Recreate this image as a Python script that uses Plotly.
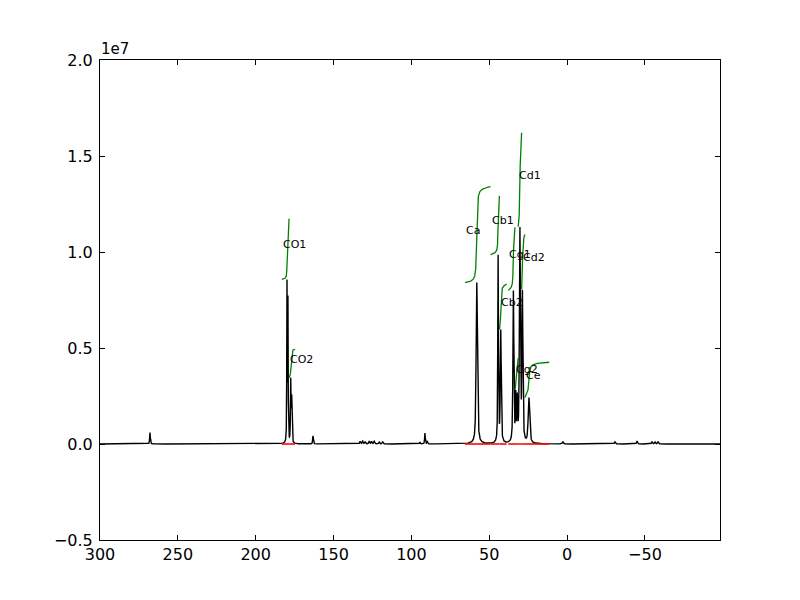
import numpy as np
import plotly.graph_objects as go

# ---- peaks: position (ppm), height, FWHM (ppm) ----
peak_ppm = [267.9, 179.9, 179.3, 177.5, 176.9, 163.2,
            133.0, 131.3, 129.8, 127.1, 125.6, 123.9, 120.7, 118.5,
            94.5, 91.3, 89.8,
            58.0, 44.3, 42.6, 34.5, 33.0, 32.0, 30.3, 28.7, 24.5,
            2.7, -30.7, -44.9, -54.5, -56.5, -58.4]
peak_height = [6.0e5, 8.2e6, 7.3e6, 3.2e6, 2.3e6, 4.2e5,
               1.3e5, 1.5e5, 1.2e5, 1.5e5, 1.3e5, 1.4e5, 1.0e5, 1.2e5,
               1.0e5, 5.6e5, 1.5e5,
               8.4e6, 9.7e6, 5.8e6, 7.85e6, 2.3e6, 2.1e6, 1.10e7, 7.6e6, 2.35e6,
               1.2e5, 1.2e5, 1.5e5, 1.2e5, 1.0e5, 1.2e5]
peak_fwhm = [0.5, 0.35, 0.35, 0.45, 0.45, 0.5,
             0.7, 0.7, 0.7, 0.7, 0.7, 0.7, 0.7, 0.7,
             0.5, 0.5, 0.5,
             1.0, 0.52, 0.69, 0.70, 0.55, 0.55, 0.78, 0.7, 1.15,
             0.6, 0.7, 0.7, 0.7, 0.7, 0.7]

# ---- integration regions (name, start ppm, stop ppm) ----
region_names = ["CO1", "CO2", "Ca", "Cb1", "Cb2", "Cg1", "Cg2", "Cd1", "Cd2", "Ce"]
region_start = [183.3, 178.5, 65.6, 49.2, 43.4, 37.8, 33.4, 31.4, 29.2, 27.1]
region_stop = [178.5, 174.8, 49.2, 43.4, 38.9, 33.4, 31.4, 29.2, 27.1, 11.5]

# ---- axis ticks ----
x_ticks = [300, 250, 200, 150, 100, 50, 0, -50]
x_tick_text = ["300", "250", "200", "150", "100", "50", "0", "\u221250"]
y_ticks = [-0.5e7, 0.0, 0.5e7, 1.0e7, 1.5e7, 2.0e7]
y_tick_text = ["\u22120.5", "0.0", "0.5", "1.0", "1.5", "2.0"]

X_MAX, X_MIN = 300.0, -98.2
STEP = 0.02
ETA = 0.6
INTEGRAL_SCALE = 0.44

ppm = np.arange(X_MAX, X_MIN - STEP / 2, -STEP)
spec = np.zeros_like(ppm)
for p, h, w in zip(peak_ppm, peak_height, peak_fwhm):
    d = (ppm - p) / w
    lor = 1.0 / (1.0 + 4.0 * d * d)
    gau = np.exp(-4.0 * np.log(2.0) * d * d)
    spec += h * (ETA * lor + (1 - ETA) * gau)

fig = go.Figure()
fig.add_trace(go.Scatter(x=ppm, y=spec, mode="lines",
                         line=dict(color="black", width=1.4),
                         hoverinfo="skip", showlegend=False))

annotations = []
for name, start, stop in zip(region_names, region_start, region_stop):
    mask = (ppm <= start) & (ppm >= stop)
    seg = spec[mask]
    seg_ppm = ppm[mask]
    integ = np.cumsum(seg) * STEP * INTEGRAL_SCALE
    fig.add_trace(go.Scatter(x=seg_ppm, y=integ + seg.max(), mode="lines",
                             line=dict(color="#008000", width=1.3),
                             hoverinfo="skip", showlegend=False))
    fig.add_trace(go.Scatter(x=seg_ppm, y=np.zeros_like(seg_ppm), mode="lines",
                             line=dict(color="#ff0000", width=1.6),
                             hoverinfo="skip", showlegend=False))
    annotations.append(dict(x=seg_ppm[0], y=0.5 * integ[-1] + seg.max(),
                            xref="x", yref="y", text=name, showarrow=False,
                            xanchor="left", yanchor="bottom", borderpad=0,
                            yshift=-3,
                            font=dict(family="DejaVu Sans", size=11, color="black")))

annotations.append(dict(x=0, y=1, xref="paper", yref="paper", text="1e7",
                        showarrow=False, xanchor="left", yanchor="bottom",
                        borderpad=0, yshift=1,
                        font=dict(family="DejaVu Sans", size=15, color="black")))

axis_common = dict(showgrid=False, zeroline=False, showline=True, mirror="ticks",
                   linecolor="black", linewidth=1, ticks="inside", ticklen=5,
                   tickcolor="black", tickwidth=1,
                   tickfont=dict(family="DejaVu Sans", size=16, color="black"))

fig.update_layout(
    width=800, height=600,
    margin=dict(l=92, r=88, t=52, b=68),
    paper_bgcolor="white", plot_bgcolor="white",
    showlegend=False,
    annotations=annotations,
    xaxis=dict(range=[X_MAX, X_MIN], tickvals=x_ticks, ticktext=x_tick_text, **axis_common),
    yaxis=dict(range=[-0.5e7, 2.0e7], tickvals=y_ticks, ticktext=y_tick_text,
               ticklabelstandoff=3, **axis_common),
)

fig.write_html("out.html")
